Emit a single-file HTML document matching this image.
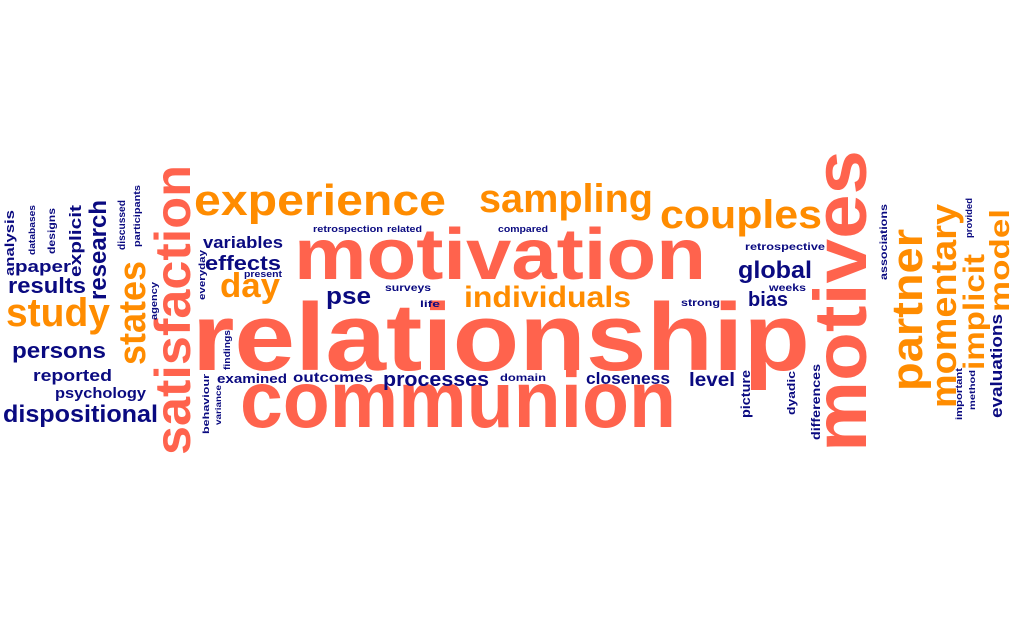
<!DOCTYPE html>
<html><head><meta charset="utf-8"><style>
html,body{margin:0;padding:0;background:#fff;width:1016px;height:626px;overflow:hidden}
svg{display:block}
text{font-family:"Liberation Sans",sans-serif;font-weight:bold}
</style></head><body>
<svg id="cloud" width="1016" height="626" viewBox="0 0 1016 626"></svg>
<script>
// word data: [word, colorKey, orientation(h/v), x-start or baseline-x, baseline-y or bottom-y, length, fontSize]
const words=[
 ["relationship","c","h",192,370,618,96],
 ["motivation","c","h",294,279,412,72],
 ["communion","c","h",240,427,436,80],
 ["experience","o","h",194,215,252,44],
 ["sampling","o","h",479,212,174,40],
 ["couples","o","h",660,228,162,40],
 ["individuals","o","h",464,307,167,30],
 ["study","o","h",6,326,104,40],
 ["day","o","h",220,297,60,34],
 ["results","n","h",8,293,78,22],
 ["paper","n","h",15,272,56,17],
 ["persons","n","h",12,358,94,22],
 ["reported","n","h",33,381,79,17],
 ["psychology","n","h",55,398,91,15],
 ["dispositional","n","h",3,422,155,24],
 ["variables","n","h",203,248,80,17],
 ["effects","n","h",205,270,76,20],
 ["present","n","h",244,277,38,9],
 ["retrospection","n","h",313,232,70,9],
 ["related","n","h",387,232,35,9],
 ["compared","n","h",498,232,50,9],
 ["pse","n","h",326,304,45,24],
 ["surveys","n","h",385,291,46,10],
 ["life","n","h",420,307,20,9],
 ["examined","n","h",217,383,70,13],
 ["outcomes","n","h",293,382,80,14],
 ["processes","n","h",383,386,106,20],
 ["domain","n","h",500,381,46,10],
 ["closeness","n","h",586,384,84,17],
 ["level","n","h",689,386,46,19],
 ["retrospective","n","h",745,250,80,10],
 ["global","n","h",738,278,74,24],
 ["weeks","n","h",769,291,37,10],
 ["bias","n","h",748,306,40,20],
 ["strong","n","h",681,306,39,10],
 ["motives","c","v",866,452,302,74],
 ["satisfaction","c","v",190,455,290,50],
 ["states","o","v",145,365,104,38],
 ["research","n","v",106,300,100,24],
 ["explicit","n","v",81,277,72,17],
 ["analysis","n","v",14,276,66,13],
 ["databases","n","v",35,255,50,9],
 ["designs","n","v",55,254,46,10],
 ["discussed","n","v",125,250,50,10],
 ["participants","n","v",140,247,62,9],
 ["agency","n","v",157,320,38,9],
 ["everyday","n","v",205,300,50,9],
 ["findings","n","v",230,370,40,9],
 ["behaviour","n","v",209,434,60,9],
 ["variance","n","v",221,425,40,8],
 ["partner","o","v",922,391,162,44],
 ["momentary","o","v",956,408,204,36],
 ["implicit","o","v",984,370,116,30],
 ["model","o","v",1009,312,103,28],
 ["evaluations","n","v",1002,418,104,17],
 ["associations","n","v",887,280,76,10],
 ["provided","n","v",972,238,40,9],
 ["important","n","v",962,420,52,9],
 ["method","n","v",975,410,40,8],
 ["picture","n","v",750,418,48,13],
 ["dyadic","n","v",795,415,44,11],
 ["differences","n","v",820,440,76,12]
];
const palette={c:"#FF634D",o:"#FF8C00",n:"#0A0A80"};
const svg=document.getElementById('cloud');
const NS="http://www.w3.org/2000/svg";
words.forEach(w=>{
  const t=document.createElementNS(NS,'text');
  
  
  t.textContent=w[0];
  t.setAttribute('fill',palette[w[1]]);
  t.setAttribute('font-size',w[6]);
  t.setAttribute('textLength',w[5]);
  t.setAttribute('lengthAdjust','spacingAndGlyphs');
  if(w[2]==='h'){
    t.setAttribute('x',w[3]);t.setAttribute('y',w[4]);
  }else{
    t.setAttribute('x',0);t.setAttribute('y',0);
    t.setAttribute('transform','translate('+w[3]+','+w[4]+') rotate(-90)');
  }
  svg.appendChild(t);
});
</script>
</body></html>
